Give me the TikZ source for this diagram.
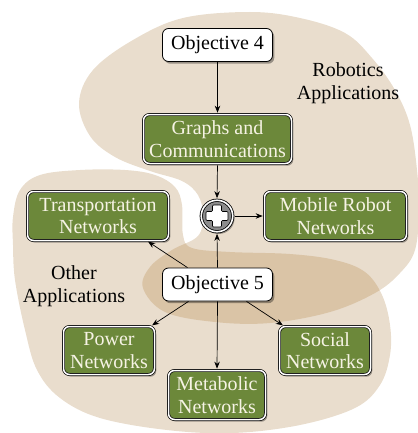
\documentclass[tikz,border=0pt]{standalone}
\usepackage{fontspec}
\setmainfont{Liberation Serif}
\usetikzlibrary{arrows.meta,shadows}
\definecolor{blobL}{RGB}{233,221,205}
\definecolor{blobD}{RGB}{218,196,166}
\definecolor{boxgreen}{RGB}{108,136,58}
\definecolor{cream}{RGB}{246,243,228}
\definecolor{plusgray}{RGB}{140,140,140}
\newcommand\bodyfont{\fontsize{20}{22.5}\selectfont}
\tikzset{
  shad/.style={drop shadow={shadow xshift=1.8pt,shadow yshift=-2.2pt,fill=black,opacity=0.35}},
  objbox/.style={draw=black,line width=0.8pt,fill=white,rounded corners=6pt,shad,
    minimum width=110pt,minimum height=33pt,inner sep=0pt,align=center,font=\bodyfont},
  appbox/.style={draw=black,line width=0.7pt,double=white,double distance=1.5pt,
    fill=boxgreen,rounded corners=6pt,shad,inner sep=0pt,align=center,
    text=cream,font=\bodyfont,minimum height=49pt},
  plusnode/.style={circle,draw=black,line width=0.8pt,double=white,double distance=1.6pt,
    fill=plusgray,minimum size=31.5pt,inner sep=0pt,shad},
  conn/.style={line width=0.7pt,-{Stealth[length=7pt,width=5.5pt]}},
  lbl/.style={align=center,font=\bodyfont,text=black}
}
\begin{document}
\begin{tikzpicture}[x=1pt,y=-1pt]
\useasboundingbox (0,0) rectangle (417,433);
% Robotics blob
\def\Rpath{plot[smooth cycle,tension=0.6] coordinates {
 (79,103) (93,70) (133,40) (183,18) (250,12) (300,18) (345,33) (372,58) (395,90)
 (410,125) (417,170) (419,210) (415,250) (400,273) (375,293) (330,312) (270,323)
 (215,322) (165,312) (143,288) (150,267) (172,250) (198,236) (203,215) (198,195)
 (182,181) (150,171) (115,157) (90,136)}}
% Other blob
\def\Opath{plot[smooth cycle,tension=0.6] coordinates {
 (13,217) (20,190) (40,175) (80,170) (125,170) (155,175) (175,187) (182,205)
 (183,235) (192,248) (230,252) (290,254) (335,260) (365,272) (382,295) (390,325)
 (390,355) (380,385) (355,408) (300,425) (233,433) (167,430) (100,418) (60,398)
 (37,370) (25,330) (15,280) (13,245)}}
\fill[blobL] \Rpath;
\fill[blobL] \Opath;
\begin{scope}
  \clip \Opath;
  \fill[blobD] \Rpath;
\end{scope}
% labels
\node[lbl] (rl) at (348,83) {Robotics\\Applications};
\node[lbl] (ol) at (74,286) {Other\\Applications};
% nodes
\node[objbox] (o4) at (217.5,45) {Objective 4};
\node[appbox,minimum width=148pt] (gc) at (217.5,139) {Graphs and\\Communications};
\node[plusnode] (pl) at (217,216) {};
\begin{scope}[shift={(pl.center)}]
  \draw[fill=white,line width=0.6pt,rounded corners=1pt]
   (-4.5,-11) -- (4.5,-11) -- (4.5,-4.5) -- (11,-4.5) -- (11,4.5) -- (4.5,4.5)
   -- (4.5,11) -- (-4.5,11) -- (-4.5,4.5) -- (-11,4.5) -- (-11,-4.5) -- (-4.5,-4.5) -- cycle;
\end{scope}
\node[appbox,minimum width=142pt] (mr) at (335.5,216) {Mobile Robot\\Networks};
\node[appbox,minimum width=141pt] (tr) at (98,216) {Transportation\\Networks};
\node[objbox] (o5) at (217.5,284.5) {Objective 5};
\node[appbox,minimum width=91pt,minimum height=48pt] (pw) at (109,350.5) {Power\\Networks};
\node[appbox,minimum width=97pt] (me) at (217,395) {Metabolic\\Networks};
\node[appbox,minimum width=91pt,minimum height=48pt] (so) at (325,350.5) {Social\\Networks};
% connectors
\draw[conn,shorten >=1.5pt] (o4.south) -- (gc.north);
\draw[conn,shorten <=1.5pt,shorten >=1.7pt] (gc.south) -- (pl.north);
\draw[conn,shorten <=1.7pt,shorten >=1.5pt] (pl.east) -- (mr.west);
\draw[conn,shorten >=1.7pt] (o5.north) -- (pl.south);
\draw[conn,shorten >=1.5pt] ([xshift=-30pt]o5.north) -- ([xshift=-22pt]tr.south east);
\draw[conn,shorten >=1.5pt] ([xshift=-29pt]o5.south) -- ([xshift=-4pt]pw.north east);
\draw[conn,shorten >=1.5pt] (o5.south) -- (me.north);
\draw[conn,shorten >=1.5pt] ([xshift=29pt]o5.south) -- ([xshift=5pt]so.north west);
\end{tikzpicture}
\end{document}
